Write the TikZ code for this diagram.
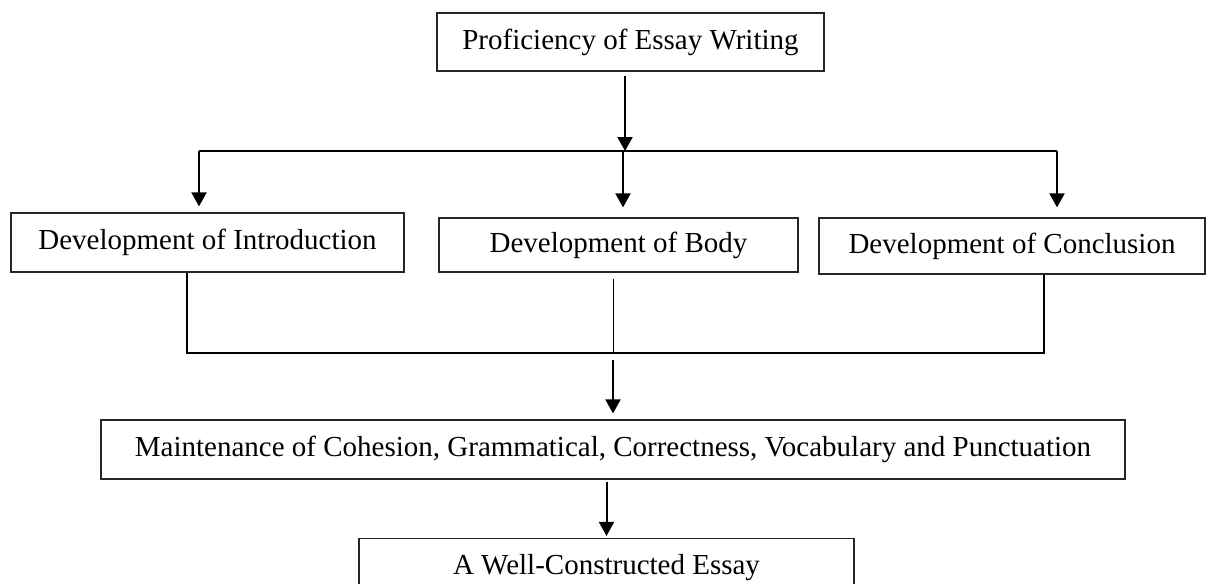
\documentclass[tikz,border=0pt]{standalone}
\usepackage{fontspec}
\setmainfont{Liberation Serif}
\usetikzlibrary{arrows.meta}
\begin{document}
\begin{tikzpicture}[x=1pt,y=-1pt,
	box/.style={draw=black!85,line width=1.2pt,inner sep=0pt,font=\fontsize{29}{34}\selectfont},
	arr/.style={line width=2pt,-{Triangle[width=15pt,length=14pt]}},
	link/.style={line width=2pt}]
	\useasboundingbox (0,0) rectangle (1206,583);
	\node [box,minimum width=387pt,minimum height=58pt] (prof) at (630.5,42) {Proficiency of Essay Writing};
	\node [box,minimum width=393pt,minimum height=59pt] (intro) at (207.5,242.5) {Development of Introduction};
	\node [box,minimum width=359pt,minimum height=54pt] (body) at (618.5,245) {Development of Body};
	\node [box,minimum width=386pt,minimum height=56pt] (concl) at (1012,246) {Development of Conclusion};
	\node [box,minimum width=1024pt,minimum height=59pt] (maint) at (613,449.5) {Maintenance of Cohesion, Grammatical, Correctness, Vocabulary and Punctuation};
	\node [box,minimum width=495pt,minimum height=59pt] (essay) at (606.5,568) {A Well-Constructed Essay};
	% split under the top box
	\coordinate (split) at (625,151);
	\coordinate (splitL) at (199,151);
	\coordinate (splitM) at (623,151);
	\coordinate (splitR) at (1057,151);
	\draw [arr,shorten <=4pt] (prof.south -| split) -- (split);
	\draw [link] (splitL) -- (splitR);
	\draw [arr,shorten >=6pt] (splitL) -- (splitL |- intro.north);
	\draw [arr,shorten >=10pt] (splitM) -- (splitM |- body.north);
	\draw [arr,shorten >=10pt] (splitR) -- (splitR |- concl.north);
	% join above the maintenance box
	\coordinate (joinL) at (187,353);
	\coordinate (join) at (613,353);
	\coordinate (joinR) at (1044,353);
	\draw [link] (intro.south -| joinL) -- (joinL) -- (joinR) -- (concl.south -| joinR);
	\draw [line width=1pt,shorten <=6pt] (body.south -| join) -- (join);
	\draw [arr,shorten <=7pt,shorten >=6pt] (join) -- (maint.north -| join);
	\draw [arr,shorten <=2pt,shorten >=2pt] (maint.south -| essay) -- (essay.north);
\end{tikzpicture}
\end{document}
